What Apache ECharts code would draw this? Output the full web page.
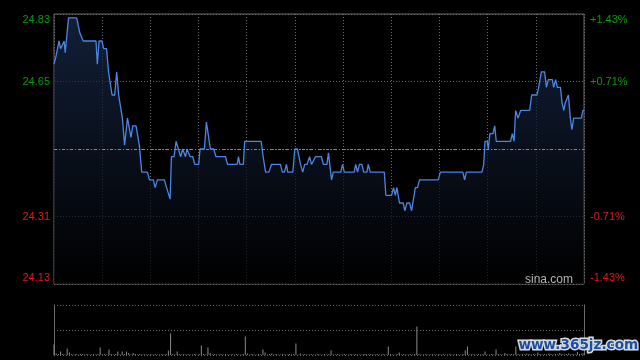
<!DOCTYPE html>
<html>
<head>
<meta charset="utf-8">
<script src="https://cdn.jsdelivr.net/npm/echarts@6/dist/echarts.min.js"></script>
<style>
html,body{margin:0;padding:0;background:#000;}
#c{width:640px;height:360px;}
</style>
</head>
<body>
<div id="c"></div>
<script>
var prevClose = 24.48;
var leftTickLabels = ['24.13', '24.31', '', '24.65', '24.83'];
var rightTickLabels = ['-1.43%', '-0.71%', '', '+0.71%', '+1.43%'];

var priceMinutes = [0,0.9,1.5,2.3,3.0,3.8,4.6,5.1,6.1,6.6,
10.3,11.8,12.6,13.3,19.1,19.7,20.5,21.8,22.6,23.9,
24.8,25.5,26.4,27.6,28.5,29.4,30.0,31.1,32.1,33.4,
34.3,35.0,35.8,37.3,38.8,39.9,42.5,43.4,45.2,46.0,
47.0,50.2,51.2,52.0,52.8,53.4,54.6,55.5,56.2,57.6,
58.5,59.8,60.5,61.3,61.9,63.1,64.0,65.8,66.4,68.4,
69.3,71.1,72.6,73.7,78.0,78.9,83.3,83.9,84.5,86.1,
86.7,94.2,95.1,96.2,97.7,98.9,103.0,103.8,104.8,105.7,
106.3,108.6,109.5,110.7,112.1,113.1,114.0,115.1,116.2,117.1,
118.0,118.9,121.6,122.5,124.1,124.8,126.2,127.0,130.4,131.2,
132.0,136.5,137.2,138.0,138.9,140.0,140.8,142.3,142.9,143.8,
150.2,150.9,153.5,154.4,155.2,155.9,157.1,158.8,159.5,160.5,
161.7,162.6,163.5,164.3,165.3,166.2,174.7,175.7,185.9,186.7,
187.5,194.6,195.4,196.0,197.0,197.5,198.2,199.6,200.4,201.1,
207.6,208.4,209.2,209.9,211.0,211.4,212.2,216.3,217.2,219.6,
220.4,221.6,223.1,223.9,224.8,226.6,227.2,228.1,228.9,230.3,
231.0,231.8,232.5,233.3,233.9,234.8,235.5,236.3,239.8,240.5,
241];

var prices = [24.70,24.72,24.72,24.76,24.74,24.74,24.76,24.73,24.79,24.82,
24.82,24.78,24.78,24.76,24.76,24.70,24.76,24.76,24.74,24.74,
24.68,24.68,24.62,24.62,24.68,24.62,24.62,24.56,24.49,24.56,
24.56,24.51,24.54,24.54,24.49,24.42,24.42,24.40,24.40,24.38,
24.40,24.40,24.38,24.38,24.35,24.46,24.46,24.50,24.50,24.46,
24.48,24.46,24.48,24.48,24.46,24.46,24.44,24.44,24.48,24.48,
24.55,24.48,24.48,24.46,24.46,24.44,24.44,24.46,24.44,24.44,
24.50,24.50,24.46,24.42,24.42,24.44,24.44,24.42,24.42,24.44,
24.42,24.42,24.48,24.48,24.44,24.42,24.44,24.44,24.46,24.44,
24.44,24.46,24.46,24.44,24.44,24.47,24.40,24.42,24.42,24.44,
24.42,24.42,24.44,24.42,24.44,24.44,24.42,24.42,24.44,24.42,
24.42,24.36,24.36,24.38,24.36,24.38,24.34,24.34,24.32,24.34,
24.34,24.32,24.32,24.38,24.38,24.40,24.40,24.42,24.42,24.40,
24.42,24.42,24.44,24.50,24.50,24.48,24.52,24.52,24.54,24.50,
24.50,24.52,24.50,24.58,24.56,24.56,24.58,24.58,24.62,24.62,
24.64,24.68,24.68,24.64,24.66,24.66,24.64,24.66,24.64,24.64,
24.60,24.58,24.60,24.60,24.62,24.56,24.53,24.56,24.56,24.58,
24.58];

var volumes = [21,3,2,7,2,1,13,5,2,1,2,1,2,2,1,2,1,1,2,1,
2,15,1,2,1,11,2,1,2,7,1,7,2,7,4,1,4,2,1,2,
1,2,1,1,2,1,2,1,1,2,1,2,9,43,2,1,7,2,1,2,
1,2,1,1,2,1,2,19,2,1,15,4,1,2,1,1,2,1,2,1,
1,2,1,2,1,1,2,37,3,1,2,1,1,2,1,11,5,1,2,3,
1,2,1,1,2,1,1,2,1,2,23,1,3,1,2,1,1,2,1,1,
2,1,1,2,1,2,9,1,1,2,1,1,2,1,1,2,1,2,1,1,
1,2,2,1,2,1,1,2,1,1,2,1,17,2,1,1,2,5,1,2,
1,1,2,1,2,57,2,1,1,2,1,1,2,1,1,2,1,2,1,1,
2,1,1,2,1,1,2,9,17,1,2,1,1,2,1,2,7,1,1,2,
1,11,2,1,1,4,2,1,2,1,17,2,1,2,1,3,2,1,2,1,
5,2,1,2,1,3,2,1,2,1,4,2,1,2,3,1,2,1,6,2,
3,4];

var GREEN = '#0a9a0a', RED = '#e01a1a', GRID = '#6a6a6a';

var priceData = priceMinutes.map(function (t, i) {
  return [t, Math.round((prices[i] - prevClose) * 10000) / 100];
});
var volData = volumes.map(function (v, i) { return [i, v]; });

function labelRich() {
  var f = 'Liberation Sans, Arial';
  return {
    up: {color: GREEN, fontSize: 11, fontFamily: f, padding: [12, 0, 0, 0]},
    upm: {color: GREEN, fontSize: 11, fontFamily: f},
    dnm: {color: RED, fontSize: 11, fontFamily: f},
    dn: {color: RED, fontSize: 11, fontFamily: f, padding: [0, 0, 12, 0]}
  };
}
function makeFormatter(labels) {
  var keys = ['dn', 'dnm', '', 'upm', 'up'];
  return function (v, i) {
    var txt = labels[i];
    if (!txt) return '';
    return '{' + keys[i] + '|' + txt + '}';
  };
}

var chart = echarts.init(document.getElementById('c'), null, {renderer: 'canvas'});
chart.setOption({
  backgroundColor: '#000',
  animation: false,
  grid: [
    {left: 54, top: 14, width: 530, height: 270, show: true, borderColor: GRID, borderWidth: 1, backgroundColor: 'transparent'},
    {left: 54, top: 305, width: 530, height: 50, show: false}
  ],
  xAxis: [
    {type: 'value', gridIndex: 0, min: 0, max: 241, interval: 241 / 11,
      axisLine: {show: false}, axisTick: {show: false}, axisLabel: {show: false},
      splitLine: {show: true, lineStyle: {color: GRID, type: [1, 2], width: 1}}},
    {type: 'value', gridIndex: 1, min: 0, max: 241,
      axisLine: {show: false}, axisTick: {show: false}, axisLabel: {show: false}, splitLine: {show: false}}
  ],
  yAxis: [
    {type: 'value', gridIndex: 0, position: 'left', min: -35, max: 35, interval: 17.5,
      axisLine: {show: false}, axisTick: {show: false},
      axisLabel: {margin: 4, formatter: makeFormatter(leftTickLabels), rich: labelRich()},
      splitLine: {show: true, lineStyle: {color: GRID, type: [1, 2], width: 1}}},
    {type: 'value', gridIndex: 0, position: 'right', min: -35, max: 35, interval: 17.5,
      axisLine: {show: false}, axisTick: {show: false},
      axisLabel: {margin: 6, formatter: makeFormatter(rightTickLabels), rich: labelRich()},
      splitLine: {show: false}},
    {type: 'value', gridIndex: 1, position: 'left', min: 0, max: 100, interval: 50,
      axisLine: {show: true, lineStyle: {color: GRID, width: 1}}, axisTick: {show: false}, axisLabel: {show: false},
      splitLine: {show: true, lineStyle: {color: GRID, type: [1, 2], width: 1}}},
    {type: 'value', gridIndex: 1, position: 'right', min: 0, max: 100, interval: 50,
      axisLine: {show: true, lineStyle: {color: GRID, width: 1}}, axisTick: {show: false}, axisLabel: {show: false},
      splitLine: {show: false}}
  ],
  series: [
    {type: 'line', xAxisIndex: 0, yAxisIndex: 0, data: priceData, symbol: 'none', silent: true,
      lineStyle: {color: '#4a86e2', width: 1.3},
      areaStyle: {origin: 'start', color: new echarts.graphic.LinearGradient(0, 0, 0, 1, [
        {offset: 0, color: '#1a2c4e'}, {offset: 1, color: '#000000'}])},
      markLine: {silent: true, symbol: 'none', label: {show: false},
        lineStyle: {color: '#8c8c8c', type: [3, 2, 1, 2], width: 1},
        data: [{yAxis: 0}]}},
    {type: 'bar', xAxisIndex: 1, yAxisIndex: 2, data: volData, barWidth: 1, silent: true,
      itemStyle: {color: '#8a8a8a'}}
  ],
  graphic: [
    {type: 'text', right: 67, top: 274, z: 10, style: {text: 'sina.com', fill: '#b4b4b4', font: '12px "Liberation Sans", Arial'}},
    {type: 'text', left: 517, top: 337, z: 20, style: {text: 'www.365jz.com', fill: '#1f4f9c', font: 'bold 13.6px "DejaVu Sans"', stroke: '#d4dae2', lineWidth: 3, shadowBlur: 3, shadowColor: '#9aa4b0'}}
  ]
});
</script>
</body>
</html>
